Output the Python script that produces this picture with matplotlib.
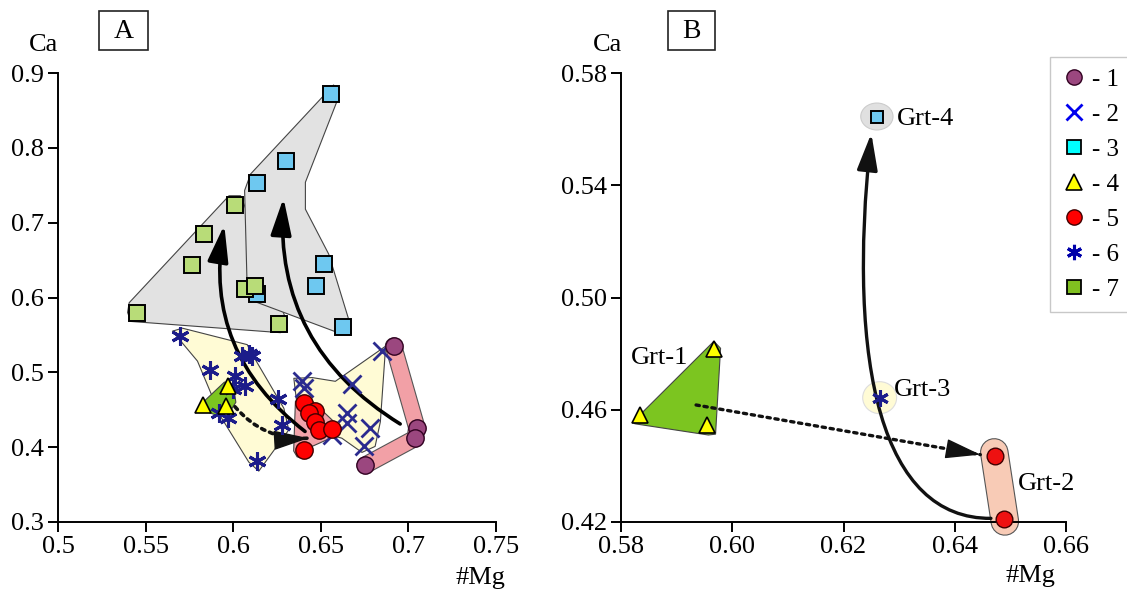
import numpy as np
import matplotlib
matplotlib.use('Agg')
import matplotlib.pyplot as plt
from matplotlib.patches import Polygon, Ellipse, FancyArrowPatch, Rectangle
from matplotlib.path import Path
from matplotlib.lines import Line2D
import matplotlib.patheffects as pe

plt.rcParams['font.family'] = ['Liberation Serif', 'DejaVu Serif']

# ---- panel A data (#Mg, Ca) ----
g1_x = [0.6915, 0.7048, 0.7039, 0.6754]
g1_y = [0.535, 0.426, 0.412, 0.376]
g2_x = [0.685, 0.6393, 0.6403, 0.6678, 0.665, 0.665, 0.6783, 0.6744, 0.6565]
g2_y = [0.528, 0.488, 0.479, 0.484, 0.446, 0.432, 0.425, 0.401, 0.416]
g3_x = [0.6557, 0.630, 0.6133, 0.6516, 0.6475, 0.6625, 0.6135]
g3_y = [0.872, 0.782, 0.753, 0.645, 0.615, 0.560, 0.605]
g4_x = [0.597, 0.583, 0.596]
g4_y = [0.482, 0.457, 0.455]
g5_x = [0.6403, 0.6469, 0.643, 0.6469, 0.6488, 0.6564, 0.6403]
g5_y = [0.459, 0.448, 0.445, 0.434, 0.423, 0.424, 0.396]
g6_x = [0.5695, 0.587, 0.601, 0.600, 0.6065, 0.605, 0.609, 0.611, 0.6255, 0.628, 0.592, 0.597, 0.6133]
g6_y = [0.548, 0.503, 0.495, 0.478, 0.482, 0.522, 0.524, 0.522, 0.464, 0.430, 0.446, 0.439, 0.381]
g7_x = [0.5453, 0.5762, 0.5834, 0.6010, 0.6068, 0.6127, 0.626]
g7_y = [0.579, 0.644, 0.685, 0.724, 0.611, 0.615, 0.564]

# envelopes in panel A
env7 = [(0.5397, 0.580), (0.5406, 0.593), (0.5976, 0.736), (0.6042, 0.736), (0.6061, 0.725),
        (0.6308, 0.566), (0.627, 0.553), (0.5416, 0.568)]
env3 = [(0.6099, 0.765), (0.6573, 0.884), (0.6602, 0.868), (0.6412, 0.754), (0.6412, 0.718),
        (0.6545, 0.658), (0.6668, 0.564), (0.6621, 0.551), (0.6118, 0.595), (0.608, 0.609),
        (0.6065, 0.743)]
env6 = [(0.5653, 0.555), (0.571, 0.559), (0.608, 0.537), (0.6109, 0.524), (0.6289, 0.452),
        (0.6317, 0.423), (0.6146, 0.368), (0.6089, 0.380), (0.5928, 0.441), (0.5796, 0.515)]
env2 = [(0.6346, 0.492), (0.645, 0.493), (0.6583, 0.488), (0.687, 0.535), (0.684, 0.434),
        (0.681, 0.401), (0.6735, 0.393), (0.662, 0.412), (0.650, 0.420), (0.637, 0.445)]
env5 = [(0.6355, 0.461), (0.6383, 0.468), (0.6431, 0.466), (0.6602, 0.428), (0.6574, 0.414),
        (0.645, 0.401), (0.6422, 0.385), (0.6365, 0.387), (0.6345, 0.395)]
env4 = [(0.5805, 0.455), (0.595, 0.487), (0.600, 0.484), (0.6015, 0.460), (0.598, 0.447),
        (0.590, 0.443), (0.582, 0.450)]

# ---- panel B data ----
b4_x = [0.5967, 0.5835, 0.5954]
b4_y = [0.4815, 0.458, 0.4545]
b3_x = [0.626]
b3_y = [0.5645]
b6_x = [0.6265]
b6_y = [0.4643]
b5_x = [0.6472, 0.6489]
b5_y = [0.4435, 0.4209]
b_env1 = [(0.5821, 0.4556), (0.5967, 0.4844), (0.5979, 0.4819), (0.5970, 0.4513),
          (0.5957, 0.4510), (0.5825, 0.4550)]
grt_names = ['Grt-1', 'Grt-2', 'Grt-3', 'Grt-4']
grt_x = [0.5817, 0.6513, 0.629, 0.6296]
grt_y = [0.4785, 0.4336, 0.467, 0.5637]

legend_labels = ['- 1', '- 2', '- 3', '- 4', '- 5', '- 6', '- 7']

ASTER = (6, 2, 0)
navy = '#1c1c8a'
HEAD = '-|>,head_length=1.5,head_width=0.42'
DOTS = (0, (1.0, 1.4))


def stroke_line(ax, x, y, w, fc, ec='#555555', z=1):
    ax.plot(x, y, color=fc, lw=w, solid_capstyle='round', solid_joinstyle='round', zorder=z,
            path_effects=[pe.Stroke(linewidth=w + 1.6, foreground=ec), pe.Normal()], clip_on=False)


def dotted_arrow(ax, p0, p1, rad, lw=2.6, z=4):
    # dotted body plus a solid head placed along the end tangent
    t = ax.transData
    (x0, y0), (x1, y1) = t.transform([p0, p1])
    dx, dy = x1 - x0, y1 - y0
    cx, cy = (x0 + x1) / 2 + rad * dy, (y0 + y1) / 2 - rad * dx
    ax.add_patch(FancyArrowPatch(p0, p1, connectionstyle='arc3,rad=%s' % rad, arrowstyle='-',
                                 lw=lw, ls=DOTS, color='#111111', shrinkA=0, shrinkB=0, zorder=z))
    vx, vy = x1 - cx, y1 - cy
    n = np.hypot(vx, vy)
    pb = t.inverted().transform((x1 - vx / n * 6, y1 - vy / n * 6))
    ax.add_patch(FancyArrowPatch(tuple(pb), p1, arrowstyle=HEAD, mutation_scale=15, lw=1,
                                 color='#111111', shrinkA=0, shrinkB=0, zorder=z))


def main():
    fig = plt.figure(figsize=(11.27, 5.95), dpi=100)
    ax_a = fig.add_axes([0.0515, 0.1227, 0.3886, 0.7546])
    ax_b = fig.add_axes([0.551, 0.1227, 0.3949, 0.7546])

    for ax in (ax_a, ax_b):
        ax.spines['top'].set_visible(False)
        ax.spines['right'].set_visible(False)
        ax.spines['left'].set_linewidth(1.4)
        ax.spines['bottom'].set_linewidth(1.4)
        ax.tick_params(direction='out', length=7, width=1.4, labelsize=19, pad=3)

    ax_a.set_xlim(0.5, 0.75)
    ax_a.set_ylim(0.3, 0.9)
    ax_b.set_xlim(0.58, 0.66)
    ax_b.set_ylim(0.42, 0.58)

    # ---------------- panel A ----------------
    ax = ax_a
    for env, fc in [(env7, '#e2e2e2'), (env3, '#e2e2e2'), (env6, '#fffbd5'), (env2, '#fffbd5'),
                    (env5, '#f2a4aa'), (env4, '#7cc520')]:
        ax.add_patch(Polygon(env, closed=True, fc=fc, ec='#444444', lw=0.8, zorder=1,
                             joinstyle='round'))
    stroke_line(ax, g1_x, g1_y, 11, '#f2a0a6', z=1)

    ax.add_patch(FancyArrowPatch((0.641, 0.421), (0.5949, 0.697), connectionstyle='arc3,rad=-0.3',
                                 arrowstyle=HEAD, mutation_scale=15,
                                 lw=2.6, color='black', shrinkA=0, shrinkB=0, zorder=4))
    ax.add_patch(FancyArrowPatch((0.6953, 0.431), (0.6287, 0.733), connectionstyle='arc3,rad=-0.3',
                                 arrowstyle=HEAD, mutation_scale=15,
                                 lw=2.6, color='black', shrinkA=0, shrinkB=0, zorder=4))
    dotted_arrow(ax, (0.601, 0.454), (0.643, 0.412), 0.25)

    ax.plot(g6_x, g6_y, ls='none', marker=ASTER, ms=13, mew=2.2, mec=navy, zorder=5)
    ax.plot(g2_x, g2_y, ls='none', marker='x', ms=13, mew=2.0, mec='#2b2b8f', zorder=5)
    ax.plot(g4_x, g4_y, ls='none', marker='^', ms=12, mfc='#ffff00', mec='black', mew=1.2, zorder=6)
    ax.plot(g3_x, g3_y, ls='none', marker='s', ms=11.5, mfc='#6ec8f0', mec='black', mew=1.4, zorder=6)
    ax.plot(g7_x, g7_y, ls='none', marker='s', ms=11.5, mfc='#b8dc78', mec='black', mew=1.4, zorder=6)
    ax.plot(g5_x, g5_y, ls='none', marker='o', ms=12.5, mfc='#ff0000', mec='#400000', mew=1.0, zorder=6)
    ax.plot(g1_x, g1_y, ls='none', marker='o', ms=12.5, mfc='#9b477f', mec='#300020', mew=1.0, zorder=6)

    ax.set_xticks([0.5, 0.55, 0.6, 0.65, 0.7, 0.75])
    ax.set_xticklabels(['0.5', '0.55', '0.6', '0.65', '0.7', '0.75'])
    ax.set_yticks([0.3, 0.4, 0.5, 0.6, 0.7, 0.8, 0.9])
    ax.set_yticklabels(['0.3', '0.4', '0.5', '0.6', '0.7', '0.8', '0.9'])

    # ---------------- panel B ----------------
    ax = ax_b
    ax.add_patch(Polygon(b_env1, closed=True, fc='#7cc520', ec='#444444', lw=0.8, zorder=1))
    ax.add_patch(Ellipse((b3_x[0], b3_y[0]), 0.0058, 0.0096, fc='#e0e0e0', ec='#cccccc', lw=0.8, zorder=1))
    ax.add_patch(Ellipse((b6_x[0], b6_y[0]), 0.0061, 0.0114, fc='#fffbd5', ec='#dddddd', lw=0.8, zorder=1))
    stroke_line(ax, [0.6471, 0.6490], [0.4448, 0.4202], 19, '#f8cbb6', z=1)

    curve = Path([(0.6465, 0.4213), (0.6270, 0.4210), (0.6205, 0.475), (0.6250, 0.5585)],
                 [Path.MOVETO, Path.CURVE4, Path.CURVE4, Path.CURVE4])
    ax.add_patch(FancyArrowPatch(path=curve, arrowstyle=HEAD, mutation_scale=15, lw=2.4,
                                 color='#111111', zorder=3, clip_on=False))
    dotted_arrow(ax, (0.5935, 0.4617), (0.6446, 0.4440), 0.0, lw=2.4, z=3)

    ax.plot(b4_x, b4_y, ls='none', marker='^', ms=11, mfc='#ffff00', mec='black', mew=1.2, zorder=5)
    ax.plot(b3_x, b3_y, ls='none', marker='s', ms=9, mfc='#6ec8f0', mec='black', mew=1.4, zorder=5)
    ax.plot(b6_x, b6_y, ls='none', marker=ASTER, ms=12, mew=2.2, mec=navy, zorder=5)
    ax.plot(b5_x, b5_y, ls='none', marker='o', ms=12, mfc='#ee1111', mec='#400000', mew=1.0,
            zorder=5, clip_on=False)

    for name, tx, ty in zip(grt_names, grt_x, grt_y):
        ax.text(tx, ty, name, fontsize=19, ha='left', va='center', zorder=6)

    ax.set_xticks([0.58, 0.60, 0.62, 0.64, 0.66])
    ax.set_xticklabels(['0.58', '0.60', '0.62', '0.64', '0.66'])
    ax.set_yticks([0.42, 0.46, 0.50, 0.54, 0.58])
    ax.set_yticklabels(['0.42', '0.46', '0.50', '0.54', '0.58'])

    handles = [
        Line2D([], [], ls='none', marker='o', ms=11, mfc='#9b477f', mec='#300020'),
        Line2D([], [], ls='none', marker='x', ms=11, mew=2.0, mec='#0000ee'),
        Line2D([], [], ls='none', marker='s', ms=10, mfc='#00ffff', mec='black', mew=1.3),
        Line2D([], [], ls='none', marker='^', ms=11, mfc='#ffff00', mec='black', mew=1.2),
        Line2D([], [], ls='none', marker='o', ms=11, mfc='#ff0000', mec='#400000'),
        Line2D([], [], ls='none', marker=ASTER, ms=11, mew=2.2, mec='#0000aa'),
        Line2D([], [], ls='none', marker='s', ms=10, mfc='#80c020', mec='black', mew=1.3),
    ]
    leg = fig.legend(handles, legend_labels, loc='upper left', bbox_to_anchor=(1050 / 1127, 1 - 57 / 595),
                     frameon=True, fancybox=False, fontsize=18, handlelength=1.0, handletextpad=0.25,
                     labelspacing=0.5, borderpad=0.45, borderaxespad=0)
    leg.get_frame().set_edgecolor('#bbbbbb')
    leg.get_frame().set_linewidth(1.0)

    # axis titles and panel boxes
    fig.text(43 / 1127, 1 - 45 / 595, 'Ca', fontsize=19, ha='center', va='center')
    fig.text(608 / 1127, 1 - 45 / 595, 'Ca', fontsize=19, ha='center', va='center')
    fig.text(480 / 1127, 1 - 578 / 595, '#Mg', fontsize=19, ha='center', va='center')
    fig.text(1030 / 1127, 1 - 576 / 595, '#Mg', fontsize=19, ha='center', va='center')
    for lab, bx0, bx1 in [('A', 99, 148), ('B', 668, 715)]:
        fig.patches.append(Rectangle((bx0 / 1127, 1 - 50 / 595), (bx1 - bx0) / 1127, 39 / 595,
                                     transform=fig.transFigure, fc='white', ec='#222222', lw=1.2))
        fig.text((bx0 + bx1) / 2 / 1127, 1 - 31 / 595, lab, fontsize=20, ha='center', va='center')

    plt.savefig('out.png', dpi=100)


if __name__ == "__main__":
    main()
